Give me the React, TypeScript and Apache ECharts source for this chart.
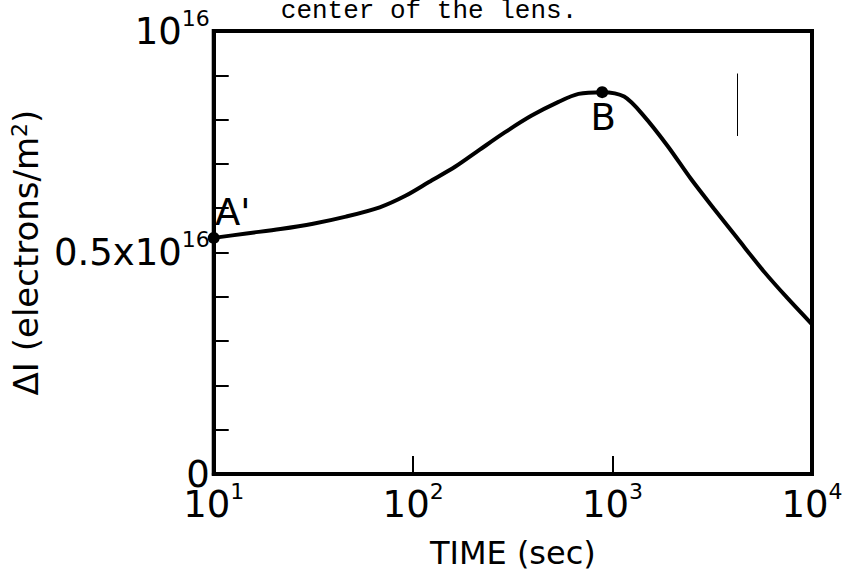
import React, { useEffect, useRef } from "react";
import * as echarts from "echarts";

// Time (s) and ΔI (in units of 10^16 electrons/m^2)
const timeSec = [10, 14.6, 21.6, 31.5, 46, 68, 91.5, 120, 163, 214, 288, 393, 536, 675, 887, 1143, 1437, 1892, 2464, 3209, 4227, 5693, 7499, 10000];
const deltaI = [0.533, 0.543, 0.553, 0.565, 0.581, 0.602, 0.628, 0.659, 0.694, 0.731, 0.771, 0.809, 0.84, 0.858, 0.862, 0.852, 0.808, 0.74, 0.667, 0.6, 0.532, 0.459, 0.398, 0.338];

// Labelled points
const pointNames = ["A'", "B"];
const pointTimes = [10, 887];
const pointValues = [0.533, 0.862];

// Stray vertical mark in the scan
const markTime = 4227;
const markRange = [0.763, 0.904];

const yTickLabels: Record<string, string> = {
  "0": "{b|0}",
  "0.5": "{b|0.5x10}{s|16}",
  "1": "{b|10}{s|16}",
};

const titleText = "center of the lens.";
const xName = "TIME (sec)";

const FONT = "DejaVu Sans";

export default function App() {
  const ref = useRef<HTMLDivElement>(null);
  useEffect(() => {
    if (!ref.current) return;
    const chart = echarts.init(ref.current, undefined, { renderer: "svg" });
    const rich = {
      b: { fontSize: 37, lineHeight: 48, fontFamily: FONT, color: "#000" },
      s: { fontSize: 22, lineHeight: 14, fontFamily: FONT, color: "#000", verticalAlign: "top" as const },
    };
    chart.setOption({
      animation: false,
      backgroundColor: "#fff",
      graphic: [
        {
          type: "text",
          x: 429,
          y: 11,
          style: {
            text: titleText,
            fontFamily: "Liberation Mono",
            fontSize: 26,
            fill: "#000",
            align: "center",
            verticalAlign: "middle",
          },
        },
      ],
      grid: {
        left: 210,
        right: 34,
        top: 31,
        bottom: 96,
        show: true,
        borderColor: "#000",
        borderWidth: 4,
        backgroundColor: "transparent",
      },
      xAxis: {
        type: "log",
        logBase: 10,
        min: 10,
        max: 10000,
        name: xName,
        nameLocation: "middle",
        nameGap: 63,
        nameTextStyle: { fontFamily: FONT, fontSize: 32, color: "#000" },
        axisLine: { show: true, lineStyle: { color: "#000", width: 4 } },
        axisTick: { show: true, inside: true, length: 18, lineStyle: { color: "#000", width: 2 } },
        minorTick: { show: false },
        splitLine: { show: false },
        axisLabel: {
          margin: 6,
          formatter: (v: number) => `{b|10}{s|${Math.round(Math.log10(v))}}`,
          rich,
        },
      },
      yAxis: {
        type: "value",
        min: 0,
        max: 1,
        interval: 0.1,
        name: "{a|ΔI (electrons/m}{t|2}{a|)}",
        nameLocation: "middle",
        nameGap: 145,
        nameRotate: 90,
        nameTextStyle: {
          rich: {
            a: { fontSize: 34, lineHeight: 36, fontFamily: FONT, color: "#000" },
            t: { fontSize: 22, lineHeight: 14, fontFamily: FONT, color: "#000", verticalAlign: "top" },
          },
        },
        axisLine: { show: true, lineStyle: { color: "#000", width: 4 } },
        axisTick: { show: true, inside: true, length: 15, lineStyle: { color: "#000", width: 2 } },
        splitLine: { show: false },
        axisLabel: {
          margin: 4,
          formatter: (v: number) => {
            const k = String(Math.round(v * 10) / 10);
            return yTickLabels[k] ?? "";
          },
          rich,
        },
      },
      series: [
        {
          type: "line",
          data: timeSec.map((t, i) => [t, deltaI[i]]),
          smooth: 0.3,
          showSymbol: false,
          lineStyle: { color: "#000", width: 4 },
          clip: false,
          markLine: {
            silent: true,
            symbol: ["none", "none"],
            label: { show: false },
            lineStyle: { color: "#000", width: 1, type: "solid" },
            data: [[{ coord: [markTime, markRange[0]] }, { coord: [markTime, markRange[1]] }]],
          },
        },
        {
          type: "scatter",
          data: pointTimes.map((t, i) => ({
            value: [t, pointValues[i]],
            name: pointNames[i],
            label:
              i === 0
                ? { show: true, position: "top", offset: [19, 4], color: "#000", fontFamily: FONT, fontSize: 37 }
                : { show: true, position: "bottom", offset: [1, -4], color: "#000", fontFamily: FONT, fontSize: 37 },
          })),
          symbol: "circle",
          symbolSize: 12,
          itemStyle: { color: "#000", opacity: 1 },
          clip: false,
          label: {
            formatter: (p: any) => p.name,
            fontFamily: FONT,
            fontSize: 37,
            color: "#000",
          },
        },
      ],
    });
    return () => chart.dispose();
  }, []);
  return <div ref={ref} style={{ width: 846, height: 574, position: "absolute", left: 0, top: 0 }} />;
}
